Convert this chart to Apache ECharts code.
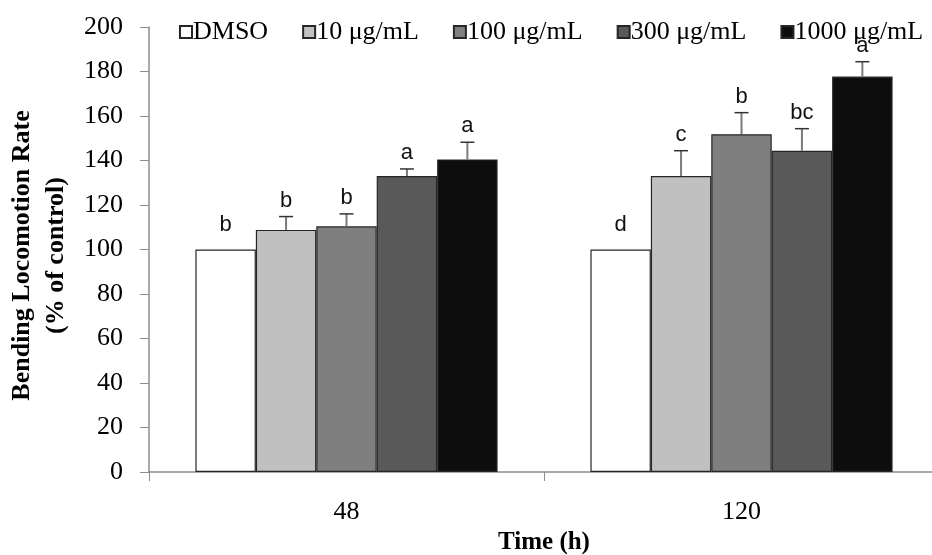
<!DOCTYPE html>
<html lang="en">
<head>
    <meta charset="UTF-8">
    <title>Bending Locomotion Rate</title>
    <script src="https://cdn.jsdelivr.net/npm/echarts@6/dist/echarts.min.js"></script>
</head>
<body style="margin:0">
    <div id="main" style="width: 932px; height: 555px;"></div>
    <script type="text/javascript">
        // data
        var categories = ['48', '120'];
        var groupNames = ['DMSO', '10 μg/mL', '100 μg/mL', '300 μg/mL', '1000 μg/mL'];
        var groupColors = ['#ffffff', '#c0c0c0', '#7f7f7f', '#595959', '#0d0d0d'];
        var dmsoVals = [100, 100];
        var dose10Vals = [108.8, 133];
        var dose100Vals = [110.4, 151.8];
        var dose300Vals = [133, 144.4];
        var dose1000Vals = [140.5, 177.7];
        var dmsoErr = [0, 0];
        var dose10Err = [6, 11.4];
        var dose100Err = [5.6, 9.7];
        var dose300Err = [3.2, 9.9];
        var dose1000Err = [7.7, 6.7];
        var dmsoLetters = ['b', 'd'];
        var dose10Letters = ['b', 'c'];
        var dose100Letters = ['b', 'b'];
        var dose300Letters = ['a', 'bc'];
        var dose1000Letters = ['a', 'a'];

        var allVals = [dmsoVals, dose10Vals, dose100Vals, dose300Vals, dose1000Vals];
        var allErr = [dmsoErr, dose10Err, dose100Err, dose300Err, dose1000Err];
        var allLetters = [dmsoLetters, dose10Letters, dose100Letters, dose300Letters, dose1000Letters];

        var catGap = 0.235;
        var serif = '"Liberation Serif", "DejaVu Serif", serif';

        var myChart = echarts.init(document.getElementById('main'));

        var series = [];
        groupNames.forEach(function (name, i) {
            series.push({
                name: name,
                type: 'bar',
                barGap: 0,
                barCategoryGap: (catGap * 100) + '%',
                itemStyle: { color: groupColors[i], borderColor: '#262626', borderWidth: 1.2 },
                data: allVals[i]
            });
        });
        // error bars (upper half only) + significance letters
        groupNames.forEach(function (name, i) {
            var d = allVals[i].map(function (v, k) {
                return [k, v, allErr[i][k]];
            });
            series.push({
                type: 'custom',
                silent: true,
                z: 5,
                data: d,
                encode: { x: 0, y: 1 },
                renderItem: function (params, api) {
                    var catW = api.size([1, 0])[0];
                    var barW = catW * (1 - catGap) / groupNames.length;
                    var base = api.coord([api.value(0), api.value(1)]);
                    var x = base[0] + (i - 2) * barW;
                    var top = api.coord([api.value(0), api.value(1) + api.value(2)])[1];
                    var kids = [];
                    if (api.value(2) > 0) {
                        kids.push({
                            type: 'line',
                            shape: { x1: x, y1: base[1], x2: x, y2: top },
                            style: { stroke: '#7a7a7a', lineWidth: 2 }
                        });
                        kids.push({
                            type: 'line',
                            shape: { x1: x - 7, y1: top, x2: x + 7, y2: top },
                            style: { stroke: '#333', lineWidth: 1.5 }
                        });
                    }
                    kids.push({
                        type: 'text',
                        x: x,
                        y: top - (api.value(2) > 0 ? 5 : 14),
                        style: {
                            text: allLetters[i][params.dataIndex],
                            fill: '#111',
                            font: '22px "Liberation Sans", "Noto Sans", sans-serif',
                            align: 'center',
                            verticalAlign: 'bottom'
                        }
                    });
                    return { type: 'group', children: kids };
                }
            });
        });

        option = {
            backgroundColor: '#ffffff',
            animation: false,
            legend: {
                data: groupNames,
                top: 14,
                left: 174,
                icon: 'rect',
                itemWidth: 12,
                itemHeight: 12,
                itemGap: 34,
                textStyle: { fontFamily: serif, fontSize: 26, color: '#000', padding: [0, 0, 0, -4] }
            },
            grid: { left: 149, top: 27, width: 790, bottom: 83, containLabel: false, outerBoundsMode: 'none' },
            xAxis: {
                type: 'category',
                data: categories,
                name: 'Time (h)',
                nameLocation: 'middle',
                nameGap: 56,
                nameTextStyle: { fontFamily: serif, fontSize: 25, fontWeight: 'bold', color: '#000' },
                axisLine: { lineStyle: { color: '#8c8c8c', width: 1.5 } },
                axisTick: { show: true, length: 9, lineStyle: { color: '#8c8c8c' } },
                axisLabel: { fontFamily: serif, fontSize: 26, color: '#000', margin: 27 }
            },
            yAxis: {
                type: 'value',
                min: 0,
                max: 200,
                interval: 20,
                name: 'Bending Locomotion Rate\n(% of control)',
                nameLocation: 'middle',
                nameGap: 74,
                nameTextStyle: {
                    fontFamily: serif, fontSize: 26, fontWeight: 'bold', color: '#000',
                    lineHeight: 34, padding: [0, 12, 0, 0]
                },
                axisLine: { show: true, lineStyle: { color: '#8c8c8c', width: 1.5 } },
                axisTick: { show: true, length: 9, lineStyle: { color: '#8c8c8c' } },
                axisLabel: { fontFamily: serif, fontSize: 26, color: '#000', margin: 26 },
                splitLine: { show: false }
            },
            series: series
        };
        myChart.setOption(option);
    </script>
</body>
</html>
